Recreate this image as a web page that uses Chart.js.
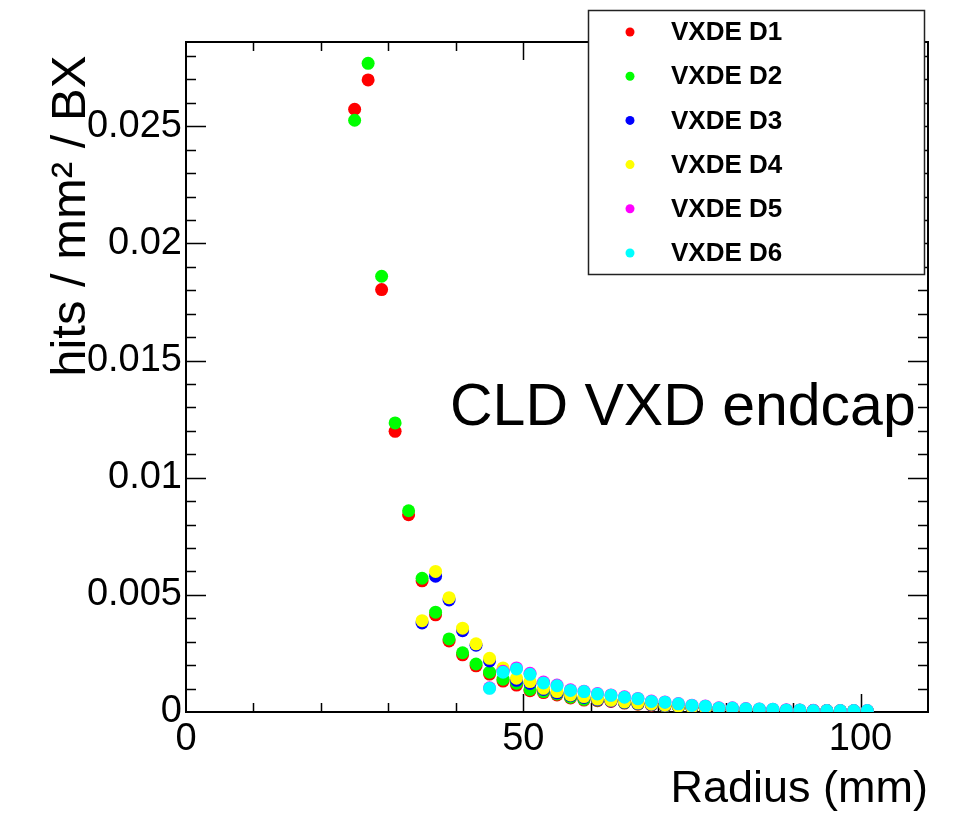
<!DOCTYPE html>
<html>
<head>
<meta charset="utf-8">
<script src="https://cdn.jsdelivr.net/npm/chart.js@4"></script>
<style>
  html, body { margin: 0; padding: 0; background: #fff; }
  canvas { display: block; }
</style>
</head>
<body>
<canvas id="hitsChart" width="969" height="816"></canvas>
<script>
// radius bins (mm) for each pair of discs
const radiusD12 = [25, 27, 29, 31, 33, 35, 37, 39, 41, 43, 45, 47, 49, 51, 53, 55, 57, 59, 61, 63,
                   65, 67, 69, 71, 73, 75, 77, 79, 81, 83, 85, 87, 89, 91, 93, 95, 97, 99, 101];
const radiusD34 = [35, 37, 39, 41, 43, 45, 47, 49, 51, 53, 55, 57, 59, 61, 63, 65, 67, 69, 71, 73,
                   75, 77, 79, 81, 83, 85, 87, 89, 91, 93, 95, 97, 99, 101];
const radiusD56 = [45, 47, 49, 51, 53, 55, 57, 59, 61, 63, 65, 67, 69, 71, 73, 75, 77, 79, 81, 83,
                   85, 87, 89, 91, 93, 95, 97, 99, 101];

// hits / mm2 / BX
const hitsD1 = [0.02573, 0.02698, 0.01803, 0.01198, 0.00842, 0.00560, 0.00415, 0.00303, 0.00244, 0.00197,
                0.00162, 0.00132, 0.00115, 0.00091, 0.00083, 0.00073, 0.00060, 0.00051, 0.00048, 0.00045,
                0.00038, 0.00033, 0.00029, 0.00024, 0.00021, 0.00018, 0.00016, 0.00014, 0.00012, 0.00011,
                0.00010, 0.00009, 0.00008, 0.00007, 0.00006, 0.00006, 0.00005, 0.00005, 0.00004];
const hitsD2 = [0.02526, 0.02769, 0.01860, 0.01234, 0.00859, 0.00571, 0.00426, 0.00312, 0.00253, 0.00205,
                0.00170, 0.00140, 0.00123, 0.00096, 0.00087, 0.00077, 0.00063, 0.00054, 0.00051, 0.00048,
                0.00040, 0.00035, 0.00031, 0.00026, 0.00022, 0.00019, 0.00017, 0.00015, 0.00013, 0.00011,
                0.00010, 0.00009, 0.00008, 0.00007, 0.00006, 0.00006, 0.00005, 0.00005, 0.00004];
const hitsD3 = [0.00380, 0.00580, 0.00478, 0.00347, 0.00285, 0.00218, 0.00180, 0.00135, 0.00122, 0.00096,
                0.00082, 0.00070, 0.00062, 0.00052, 0.00047, 0.00041, 0.00036, 0.00031, 0.00027, 0.00023,
                0.00020, 0.00017, 0.00014, 0.00012, 0.00010, 0.00009, 0.00008, 0.00007, 0.00006, 0.00006,
                0.00005, 0.00004, 0.00004, 0.00004];
const hitsD4 = [0.00390, 0.00600, 0.00488, 0.00358, 0.00291, 0.00229, 0.00188, 0.00144, 0.00130, 0.00101,
                0.00087, 0.00073, 0.00066, 0.00055, 0.00050, 0.00043, 0.00038, 0.00033, 0.00029, 0.00025,
                0.00021, 0.00018, 0.00015, 0.00013, 0.00011, 0.00010, 0.00009, 0.00008, 0.00007, 0.00006,
                0.00005, 0.00005, 0.00004, 0.00004];
const hitsD5 = [0.00103, 0.00174, 0.00188, 0.00165, 0.00128, 0.00115, 0.00095, 0.00089, 0.00079, 0.00073,
                0.00065, 0.00058, 0.00047, 0.00043, 0.00036, 0.00029, 0.00026, 0.00018, 0.00018, 0.00015,
                0.00013, 0.00012, 0.00010, 0.00009, 0.00007, 0.00006, 0.00006, 0.00006, 0.00006];
const hitsD6 = [0.00101, 0.00170, 0.00184, 0.00161, 0.00124, 0.00112, 0.00092, 0.00087, 0.00077, 0.00071,
                0.00063, 0.00057, 0.00045, 0.00042, 0.00035, 0.00028, 0.00025, 0.00017, 0.00017, 0.00014,
                0.00013, 0.00012, 0.00009, 0.00009, 0.00006, 0.00006, 0.00006, 0.00006, 0.00006];

const seriesLabels = ['VXDE D1', 'VXDE D2', 'VXDE D3', 'VXDE D4', 'VXDE D5', 'VXDE D6'];
const seriesColors = ['#ff0000', '#00ff00', '#0000ff', '#ffff00', '#ff00ff', '#00ffff'];
const seriesRadius = [radiusD12, radiusD12, radiusD34, radiusD34, radiusD56, radiusD56];
const seriesHits = [hitsD1, hitsD2, hitsD3, hitsD4, hitsD5, hitsD6];

const xTickValues = [0, 50, 100];
const yTickValues = [0, 0.005, 0.01, 0.015, 0.02, 0.025];
const plotTitle = 'CLD VXD endcap';

const FONT = '"Liberation Sans", Helvetica, Arial, sans-serif';

// ROOT-like frame with inward ticks on all four sides
const frameTicks = {
    id: 'frameTicks',
    beforeDatasetsDraw(chart) {
        const { ctx, chartArea: a, scales: { x, y } } = chart;
        ctx.save();
        ctx.strokeStyle = '#000';
        ctx.lineWidth = 1.5;
        ctx.beginPath();
        for (let v = 10; v < x.max; v += 10) {
            const px = Math.round(x.getPixelForValue(v)) + 0.5;
            const len = v % 50 === 0 ? 18 : 9;
            ctx.moveTo(px, a.bottom); ctx.lineTo(px, a.bottom - len);
            ctx.moveTo(px, a.top); ctx.lineTo(px, a.top + len);
        }
        for (let i = 1; i * 0.001 < y.max; i++) {
            const py = Math.round(y.getPixelForValue(i * 0.001)) + 0.5;
            const len = i % 5 === 0 ? 20 : 10;
            ctx.moveTo(a.left, py); ctx.lineTo(a.left + len, py);
            ctx.moveTo(a.right, py); ctx.lineTo(a.right - len, py);
        }
        ctx.stroke();
        ctx.lineWidth = 2;
        ctx.strokeRect(a.left, a.top, a.right - a.left, a.bottom - a.top);
        ctx.restore();
    },
    afterDraw(chart) {
        const ctx = chart.ctx;
        ctx.save();
        // plot label
        ctx.fillStyle = '#000';
        ctx.font = '59px ' + FONT;
        ctx.textBaseline = 'alphabetic';
        ctx.textAlign = 'left';
        ctx.fillText(plotTitle, 450, 425);

        // legend box
        ctx.fillStyle = '#fff';
        ctx.fillRect(588, 10, 336, 264);
        ctx.strokeStyle = '#222';
        ctx.lineWidth = 1.5;
        ctx.strokeRect(588.5, 10.5, 336, 264);
        ctx.font = 'bold 26px ' + FONT;
        ctx.textBaseline = 'middle';
        chart.data.datasets.forEach((ds, i) => {
            const yy = 32 + i * 44.2;
            ctx.fillStyle = ds.backgroundColor;
            ctx.beginPath();
            ctx.arc(630, yy, 4.5, 0, Math.PI * 2);
            ctx.fill();
            ctx.fillStyle = '#000';
            ctx.fillText(ds.label, 671, yy + 1);
        });
        ctx.restore();
    }
};

const datasets = seriesLabels.map((label, i) => ({
    label: label,
    data: seriesRadius[i].map((r, j) => ({ x: r, y: seriesHits[i][j] })),
    backgroundColor: seriesColors[i],
    borderColor: seriesColors[i],
    pointRadius: 6.5,
    pointBorderWidth: 0,
    pointHoverRadius: 6.5,
    showLine: false,
    order: seriesLabels.length - i
}));

new Chart(document.getElementById('hitsChart'), {
    type: 'scatter',
    data: { datasets: datasets },
    options: {
        responsive: false,
        animation: false,
        layout: { padding: { left: 0, right: 41, top: 42, bottom: 0 } },
        plugins: {
            legend: { display: false },
            tooltip: { enabled: false }
        },
        scales: {
            x: {
                type: 'linear',
                min: 0,
                max: 110,
                grid: { display: false, drawTicks: false },
                border: { display: false },
                afterBuildTicks: (scale) => { scale.ticks = xTickValues.map(v => ({ value: v })); },
                afterFit: (scale) => { scale.height = 104; },
                ticks: {
                    color: '#000',
                    font: { family: FONT, size: 38 },
                    padding: 5,
                    maxRotation: 0,
                    callback: (v) => String(v)
                },
                title: {
                    display: true,
                    text: 'Radius (mm)',
                    align: 'end',
                    color: '#000',
                    font: { family: FONT, size: 45, lineHeight: 1 },
                    padding: { top: 0, bottom: 4 }
                }
            },
            y: {
                type: 'linear',
                min: 0,
                max: 0.0286,
                grid: { display: false, drawTicks: false },
                border: { display: false },
                afterBuildTicks: (scale) => { scale.ticks = yTickValues.map(v => ({ value: v })); },
                afterFit: (scale) => { scale.width = 186; },
                ticks: {
                    color: '#000',
                    font: { family: FONT, size: 38 },
                    padding: 4,
                    callback: (v) => String(+v.toFixed(3))
                },
                title: {
                    display: true,
                    text: 'hits / mm² / BX ',
                    align: 'end',
                    color: '#000',
                    font: { family: FONT, size: 49, lineHeight: 1 },
                    padding: { top: 47, bottom: 0 }
                }
            }
        }
    },
    plugins: [frameTicks]
});
</script>
</body>
</html>
